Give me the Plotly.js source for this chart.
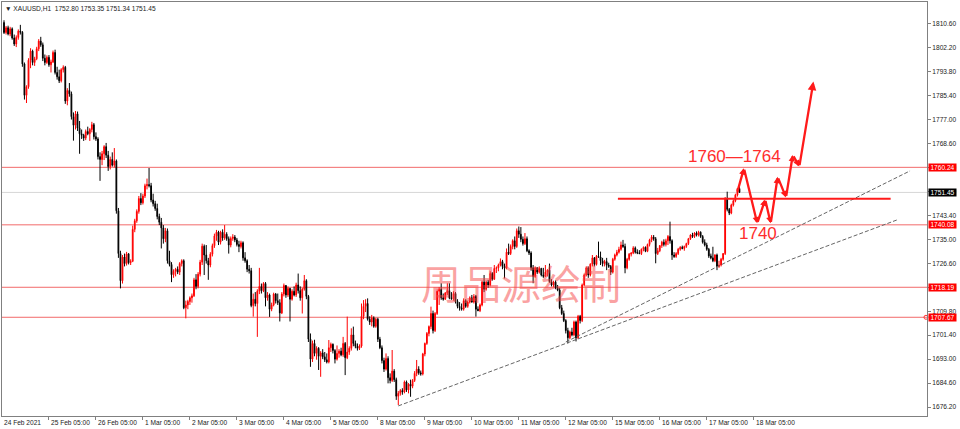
<!DOCTYPE html>
<html><head><meta charset="utf-8">
<script src="https://cdn.plot.ly/plotly-3.0.1.min.js"></script>
<style>html,body{margin:0;padding:0;background:#fff;}#chart{width:960px;height:429px;}</style>
</head><body><div id="chart"></div>
<script>
const open = [
1811.0,1807.5,1809.2,1807.0,1808.8,1805.6,1803.5,1805.8,1808.0,1807.6,
1796.5,1785.5,1788.5,1797.8,1801.0,1797.0,1798.3,1801.8,1804.5,1803.2,
1798.5,1797.0,1798.8,1796.2,1797.2,1800.5,1793.5,1792.0,1790.6,1794.5,
1795.3,1783.5,1787.2,1786.0,1778.0,1775.0,1779.0,1774.0,1772.0,1771.5,
1770.5,1772.8,1772.0,1773.5,1775.2,1771.0,1770.2,1764.0,1763.0,1765.0,
1767.5,1764.5,1760.5,1763.0,1761.0,1762.5,1745.0,1730.0,1720.5,1728.8,
1726.5,1729.9,1726.8,1727.3,1738.5,1741.5,1744.8,1749.3,1747.8,1750.2,
1753.8,1754.2,1753.8,1748.8,1747.5,1745.8,1743.0,1741.0,1739.0,1735.2,
1738.0,1727.5,1726.2,1722.6,1723.8,1724.5,1723.5,1726.5,1727.5,1711.0,
1712.0,1713.2,1714.5,1715.2,1720.8,1718.5,1722.8,1727.0,1732.6,1729.5,
1727.5,1726.0,1729.8,1732.8,1736.2,1737.5,1734.0,1737.5,1735.5,1736.8,
1735.2,1733.0,1735.3,1735.8,1734.8,1733.2,1732.5,1733.8,1728.5,1727.5,
1724.5,1724.0,1711.8,1714.0,1712.5,1716.8,1718.5,1717.0,1719.5,1714.5,
1715.5,1710.5,1712.0,1715.8,1713.5,1712.8,1709.2,1715.8,1718.8,1715.5,
1717.8,1714.0,1716.8,1715.5,1719.0,1717.0,1714.5,1717.5,1720.5,1715.0,
1700.0,1693.0,1698.5,1695.0,1696.8,1694.0,1695.2,1693.8,1692.8,1692.0,
1697.0,1698.2,1696.0,1693.0,1695.0,1695.8,1694.5,1698.5,1693.5,1695.5,
1696.8,1701.5,1698.5,1697.5,1696.8,1697.6,1708.0,1711.5,1712.5,1707.0,
1706.0,1707.5,1704.5,1707.0,1700.0,1697.0,1692.5,1689.5,1693.2,1686.5,
1685.5,1688.8,1685.8,1680.0,1681.0,1682.0,1681.5,1685.0,1682.2,1684.2,
1683.5,1685.5,1688.0,1689.5,1688.2,1687.8,1694.8,1698.5,1702.0,1704.4,
1709.0,1703.0,1709.0,1716.8,1717.5,1714.5,1714.0,1716.2,1717.0,1714.5,
1714.2,1716.0,1713.2,1711.5,1711.0,1710.5,1713.5,1711.5,1713.0,1714.5,
1713.0,1715.0,1710.5,1710.0,1712.0,1720.0,1717.5,1720.0,1719.0,1723.0,
1721.0,1724.8,1725.0,1726.0,1727.2,1725.5,1725.0,1730.5,1730.0,1732.5,
1734.5,1732.5,1738.0,1736.8,1735.0,1733.5,1735.2,1731.0,1730.2,1725.0,
1722.0,1725.0,1723.5,1724.8,1722.5,1722.0,1723.5,1724.2,1720.2,1719.0,
1720.0,1718.0,1717.2,1711.0,1709.0,1706.5,1703.0,1700.5,1702.5,1701.5,
1706.0,1700.5,1708.0,1706.5,1719.0,1722.5,1725.0,1722.5,1726.3,1728.5,
1726.2,1729.0,1728.8,1727.5,1726.5,1727.2,1726.0,1725.5,1723.5,1728.0,
1729.5,1730.5,1731.5,1733.0,1732.5,1725.0,1728.0,1729.8,1730.2,1732.0,
1730.5,1730.2,1730.0,1731.5,1732.2,1730.8,1733.2,1734.8,1735.8,1735.2,
1730.0,1731.0,1732.8,1734.0,1733.2,1734.5,1736.0,1734.5,1729.5,1729.0,
1730.0,1731.5,1732.2,1731.8,1732.5,1733.5,1735.2,1736.5,1736.0,1737.2,
1736.5,1737.5,1736.0,1734.0,1733.0,1731.5,1729.2,1728.5,1727.5,1729.5,
1725.5,1726.0,1728.0,1730.0,1749.4,1745.5,1744.2,1747.0,1748.5,1750.5,1752.80];
const high = [
1811.8,1809.8,1809.9,1809.5,1809.3,1806.8,1806.5,1808.6,1810.2,1808.0,
1797.0,1789.0,1798.5,1802.0,1801.5,1799.0,1802.5,1805.2,1806.0,1804.0,
1799.8,1799.5,1799.6,1798.0,1801.2,1801.5,1795.5,1794.5,1795.0,1796.0,
1795.8,1788.0,1789.8,1786.8,1779.5,1780.0,1779.8,1776.5,1773.5,1772.0,
1773.5,1774.5,1774.0,1776.2,1775.8,1772.5,1770.8,1765.5,1766.0,1768.0,
1768.8,1766.0,1764.0,1765.5,1767.0,1763.0,1746.0,1731.0,1729.5,1730.0,
1730.6,1730.2,1728.0,1739.8,1742.2,1745.5,1750.2,1751.2,1751.0,1754.5,
1756.3,1760.0,1754.8,1751.0,1748.5,1747.5,1744.0,1742.5,1740.0,1739.0,
1738.8,1731.0,1727.0,1724.5,1725.0,1725.5,1727.0,1728.0,1728.0,1713.5,
1713.8,1715.0,1716.0,1721.5,1722.8,1723.5,1727.8,1733.5,1733.2,1733.0,
1728.5,1730.5,1733.5,1737.0,1738.3,1738.0,1738.0,1738.5,1740.0,1737.5,
1736.0,1736.0,1736.8,1736.5,1735.5,1734.5,1734.5,1734.3,1730.5,1728.0,
1726.0,1725.0,1716.0,1716.5,1717.5,1725.0,1719.5,1720.0,1720.0,1716.5,
1716.0,1712.8,1716.3,1716.2,1716.0,1714.0,1716.5,1719.5,1719.0,1718.5,
1718.0,1717.5,1718.5,1719.8,1723.0,1718.5,1718.0,1722.5,1721.0,1715.5,
1702.0,1699.5,1699.8,1697.5,1697.2,1695.8,1696.5,1695.5,1695.0,1699.7,
1698.8,1698.5,1696.5,1697.8,1696.5,1697.0,1700.8,1699.0,1707.9,1697.5,
1703.8,1704.4,1699.5,1698.5,1698.2,1712.5,1713.7,1714.0,1714.3,1708.0,
1708.5,1708.0,1707.5,1707.5,1700.8,1697.8,1693.5,1695.0,1694.0,1688.0,
1696.2,1689.5,1686.5,1681.8,1682.5,1682.8,1685.5,1685.5,1684.6,1685.8,
1686.0,1688.8,1692.7,1690.5,1689.0,1695.2,1698.8,1702.5,1704.8,1711.4,
1710.0,1709.5,1717.5,1718.3,1719.6,1716.0,1716.5,1719.6,1719.6,1716.5,
1716.8,1716.5,1714.0,1713.0,1712.5,1714.3,1714.0,1713.5,1715.0,1715.5,
1715.8,1715.5,1711.5,1712.5,1720.5,1722.5,1720.5,1720.8,1723.8,1723.5,
1726.0,1725.5,1726.5,1728.3,1727.8,1726.5,1731.8,1733.5,1733.2,1735.0,
1736.0,1738.8,1739.5,1739.3,1736.0,1737.2,1736.0,1731.5,1730.8,1726.0,
1725.5,1725.3,1725.5,1725.0,1725.0,1726.0,1724.5,1726.5,1721.0,1720.5,
1720.6,1719.0,1718.0,1712.0,1710.0,1707.0,1704.0,1703.0,1704.0,1706.5,
1706.5,1708.5,1708.5,1719.5,1723.0,1725.5,1725.5,1726.6,1729.5,1728.8,
1729.5,1734.2,1730.7,1728.5,1727.8,1728.5,1726.8,1726.0,1728.5,1730.0,
1731.3,1732.4,1734.2,1734.8,1733.5,1728.5,1730.2,1730.5,1732.6,1732.5,
1731.5,1731.2,1731.8,1732.5,1732.5,1733.5,1735.2,1736.5,1736.5,1735.8,
1732.0,1733.0,1734.5,1735.0,1735.2,1736.5,1741.2,1735.0,1730.5,1730.5,
1732.0,1732.6,1732.8,1732.8,1733.8,1735.5,1736.8,1737.3,1737.5,1737.8,
1738.0,1737.8,1736.5,1735.0,1733.8,1732.0,1730.0,1732.4,1729.8,1730.0,
1727.5,1728.5,1730.2,1749.8,1751.7,1746.0,1747.5,1749.0,1751.0,1753.0,1753.35];
const low = [
1807.0,1806.8,1806.5,1806.2,1805.0,1802.8,1802.4,1805.0,1806.8,1795.5,
1784.0,1782.8,1787.8,1795.0,1796.0,1795.8,1797.8,1801.0,1802.5,1797.5,
1796.0,1796.5,1795.5,1793.5,1796.8,1792.8,1791.0,1789.8,1790.0,1793.5,
1782.5,1782.0,1785.0,1777.0,1769.6,1773.5,1773.0,1765.0,1770.2,1769.5,
1769.8,1771.5,1769.5,1772.5,1770.0,1769.5,1763.0,1755.5,1761.0,1762.8,
1763.5,1759.0,1759.5,1760.5,1760.2,1744.0,1728.5,1717.8,1719.5,1725.5,
1725.8,1726.2,1726.0,1727.0,1737.5,1740.8,1744.0,1747.0,1747.2,1749.5,
1752.5,1753.2,1748.0,1746.5,1745.0,1742.0,1740.0,1731.8,1733.5,1734.0,
1726.5,1725.5,1720.0,1721.5,1722.0,1722.8,1722.5,1725.5,1710.5,1707.3,
1710.5,1712.0,1712.8,1714.8,1717.5,1717.8,1722.0,1726.0,1722.5,1726.5,
1720.8,1725.2,1729.0,1732.0,1734.5,1733.0,1733.2,1734.5,1734.8,1734.5,
1730.0,1732.2,1734.5,1734.0,1732.5,1730.5,1731.8,1727.5,1726.8,1723.5,
1723.0,1711.2,1707.9,1711.5,1700.8,1715.8,1716.0,1716.5,1711.5,1713.5,
1707.8,1709.8,1711.5,1712.5,1712.0,1706.2,1708.8,1715.0,1714.5,1714.8,
1706.2,1713.5,1715.0,1714.8,1716.0,1713.5,1709.0,1717.0,1714.0,1699.0,
1690.3,1692.0,1694.0,1692.8,1689.2,1686.8,1693.0,1692.0,1691.5,1691.5,
1695.5,1695.0,1691.5,1692.5,1693.5,1694.0,1693.8,1687.4,1693.0,1694.5,
1696.0,1697.5,1696.8,1696.0,1696.2,1697.0,1707.0,1709.5,1706.5,1705.0,
1704.5,1704.0,1704.0,1699.0,1696.5,1691.5,1688.5,1689.0,1684.5,1684.5,
1685.0,1685.0,1678.7,1676.9,1680.2,1680.5,1681.0,1681.5,1681.0,1679.8,
1682.8,1685.0,1687.0,1687.5,1687.2,1687.3,1694.0,1698.0,1701.0,1703.5,
1702.0,1702.5,1708.5,1712.0,1713.8,1713.5,1713.8,1715.5,1714.0,1713.8,
1713.5,1712.5,1710.8,1710.0,1710.0,1710.0,1711.0,1711.0,1712.5,1712.8,
1712.5,1707.9,1709.8,1709.5,1711.5,1716.5,1717.0,1718.0,1718.5,1720.5,
1720.8,1723.2,1723.8,1725.5,1724.5,1721.3,1724.5,1729.5,1729.5,1731.5,
1731.5,1732.0,1735.5,1734.0,1732.8,1733.0,1730.5,1729.5,1724.0,1719.6,
1721.5,1722.8,1723.0,1722.0,1721.5,1721.8,1722.0,1719.8,1718.5,1718.2,
1717.5,1716.8,1710.5,1708.5,1706.0,1702.0,1698.5,1700.0,1701.0,1701.0,
1699.2,1700.0,1705.5,1706.0,1718.5,1722.0,1721.5,1722.0,1725.5,1725.5,
1725.8,1728.5,1726.0,1725.5,1725.5,1724.2,1725.0,1722.5,1723.0,1727.5,
1729.0,1730.0,1731.0,1732.0,1723.1,1724.5,1727.5,1729.0,1729.8,1730.0,
1729.8,1729.8,1729.5,1730.8,1730.5,1730.5,1732.5,1734.0,1734.5,1726.6,
1729.5,1730.5,1732.0,1732.5,1732.5,1733.0,1733.5,1727.8,1728.5,1728.5,
1729.5,1731.0,1731.5,1731.0,1732.0,1733.0,1734.8,1735.5,1735.5,1736.0,
1736.0,1735.5,1733.5,1732.5,1731.0,1728.5,1728.0,1727.0,1727.0,1724.2,
1725.0,1725.5,1727.5,1729.5,1744.8,1743.5,1743.8,1746.5,1748.0,1750.0,1751.34];
const close = [
1807.5,1809.2,1807.0,1808.8,1805.6,1803.5,1805.8,1808.0,1807.6,1796.5,
1785.5,1788.5,1797.8,1801.0,1797.0,1798.3,1801.8,1804.5,1803.2,1798.5,
1797.0,1798.8,1796.2,1797.2,1800.5,1793.5,1792.0,1790.6,1794.5,1795.3,
1783.5,1787.2,1786.0,1778.0,1775.0,1779.0,1774.0,1772.0,1771.5,1770.5,
1772.8,1772.0,1773.5,1775.2,1771.0,1770.2,1764.0,1763.0,1765.0,1767.5,
1764.5,1760.5,1763.0,1761.0,1762.5,1745.0,1730.0,1720.5,1728.8,1726.5,
1729.9,1726.8,1727.3,1738.5,1741.5,1744.8,1749.3,1747.8,1750.2,1753.8,
1754.2,1753.8,1748.8,1747.5,1745.8,1743.0,1741.0,1739.0,1735.2,1738.0,
1727.5,1726.2,1722.6,1723.8,1724.5,1723.5,1726.5,1727.5,1711.0,1712.0,
1713.2,1714.5,1715.2,1720.8,1718.5,1722.8,1727.0,1732.6,1729.5,1727.5,
1726.0,1729.8,1732.8,1736.2,1737.5,1734.0,1737.5,1735.5,1736.8,1735.2,
1733.0,1735.3,1735.8,1734.8,1733.2,1732.5,1733.8,1728.5,1727.5,1724.5,
1724.0,1711.8,1714.0,1712.5,1716.8,1718.5,1717.0,1719.5,1714.5,1715.5,
1710.5,1712.0,1715.8,1713.5,1712.8,1709.2,1715.8,1718.8,1715.5,1717.8,
1714.0,1716.8,1715.5,1719.0,1717.0,1714.5,1717.5,1720.5,1715.0,1700.0,
1693.0,1698.5,1695.0,1696.8,1694.0,1695.2,1693.8,1692.8,1692.0,1697.0,
1698.2,1696.0,1693.0,1695.0,1695.8,1694.5,1698.5,1693.5,1695.5,1696.8,
1701.5,1698.5,1697.5,1696.8,1697.6,1708.0,1711.5,1712.5,1707.0,1706.0,
1707.5,1704.5,1707.0,1700.0,1697.0,1692.5,1689.5,1693.2,1686.5,1685.5,
1688.8,1685.8,1680.0,1681.0,1682.0,1681.5,1685.0,1682.2,1684.2,1683.5,
1685.5,1688.0,1689.5,1688.2,1687.8,1694.8,1698.5,1702.0,1704.4,1709.0,
1703.0,1709.0,1716.8,1717.5,1714.5,1714.0,1716.2,1717.0,1714.5,1714.2,
1716.0,1713.2,1711.5,1711.0,1710.5,1713.5,1711.5,1713.0,1714.5,1713.0,
1715.0,1710.5,1710.0,1712.0,1720.0,1717.5,1720.0,1719.0,1723.0,1721.0,
1724.8,1725.0,1726.0,1727.2,1725.5,1725.0,1730.5,1730.0,1732.5,1734.5,
1732.5,1738.0,1736.8,1735.0,1733.5,1735.2,1731.0,1730.2,1725.0,1722.0,
1725.0,1723.5,1724.8,1722.5,1722.0,1723.5,1724.2,1720.2,1719.0,1720.0,
1718.0,1717.2,1711.0,1709.0,1706.5,1703.0,1700.5,1702.5,1701.5,1706.0,
1700.5,1708.0,1706.5,1719.0,1722.5,1725.0,1722.5,1726.3,1728.5,1726.2,
1729.0,1728.8,1727.5,1726.5,1727.2,1726.0,1725.5,1723.5,1728.0,1729.5,
1730.5,1731.5,1733.0,1732.5,1725.0,1728.0,1729.8,1730.2,1732.0,1730.5,
1730.2,1730.0,1731.5,1732.2,1730.8,1733.2,1734.8,1735.8,1735.2,1730.0,
1731.0,1732.8,1734.0,1733.2,1734.5,1736.0,1734.5,1729.5,1729.0,1730.0,
1731.5,1732.2,1731.8,1732.5,1733.5,1735.2,1736.5,1736.0,1737.2,1736.5,
1737.5,1736.0,1734.0,1733.0,1731.5,1729.2,1728.5,1727.5,1729.5,1725.5,
1726.0,1728.0,1730.0,1749.4,1745.5,1744.2,1747.0,1748.5,1750.5,1752.8,1751.45];

const xTickVals = [22,45,68,91,114,137,160,183,206,229,252,275,298,321,344,367];
const xTickText = ["25 Feb 05:00","26 Feb 05:00","1 Mar 05:00","2 Mar 05:00","3 Mar 05:00","4 Mar 05:00","5 Mar 05:00","8 Mar 05:00","9 Mar 05:00","10 Mar 05:00","11 Mar 05:00","12 Mar 05:00","15 Mar 05:00","16 Mar 05:00","17 Mar 05:00","18 Mar 05:00"];
const firstDateLabel = "24 Feb 2021";
const yTickVals = [1676.2,1684.6,1693.0,1701.4,1709.8,1718.2,1726.6,1735.0,1743.4,1751.8,1760.2,1768.6,1777.0,1785.4,1793.8,1802.2,1810.6];
const levelPrices = [1760.24,1740.08,1718.19,1707.67];
const lastPrice = 1751.45;
const titleText = "▼ XAUUSD,H1  1752.80 1753.35 1751.34 1751.45";
const keyLevelX = [300.5,434];
const keyLevelY = [1749.2,1749.2];
const trendAX = [193,437.1], trendAY = [1676.6,1741.8];
const trendBX = [275,443.5], trendBY = [1699.0,1759.0];
const pathX = [358.8,362.2,368.7,372.6,375.3,378.7,382.8,386.1,389.3,396.2];
const pathY = [1751.2,1759.9,1740.6,1749.0,1740.6,1756.9,1749.7,1764.6,1760.5,1790.3];
const noteTexts = ["1760—1764","1740"];
const noteX = [357.8,369.2];
const noteY = [1764.0,1737.0];
const watermark = "周品源绘制";

const FONT = "Liberation Sans, Arial, sans-serif";
const SMALL = 6.6;
const xIdx = open.map((_, i) => i);

const traces = [
  {type:'candlestick', x:xIdx, open:open, high:high, low:low, close:close,
   increasing:{line:{color:'#ff0000', width:1}, fillcolor:'#ff0000'},
   decreasing:{line:{color:'#000000', width:1}, fillcolor:'#000000'},
   whiskerwidth:0, hoverinfo:'skip'},
  {type:'scatter', mode:'lines', x:trendAX, y:trendAY, line:{color:'#666', width:1, dash:'4px,2px'}, hoverinfo:'skip'},
  {type:'scatter', mode:'lines', x:trendBX, y:trendBY, line:{color:'#666', width:1, dash:'4px,2px'}, hoverinfo:'skip'},
  {type:'scatter', mode:'lines', x:keyLevelX, y:keyLevelY, line:{color:'#ff1a1a', width:2}, hoverinfo:'skip'},
  {type:'scatter', mode:'markers', x:[451.3], y:[levelPrices[3]], marker:{symbol:'circle-open', size:4, color:'#ff3030', line:{width:1}}, cliponaxis:false, hoverinfo:'skip'}
];

const shapes = levelPrices.map(p => ({type:'line', xref:'paper', x0:0, x1:1, yref:'y', y0:p, y1:p, line:{color:'#f26a6a', width:1}, layer:'below'}));
shapes.push({type:'line', xref:'paper', x0:0, x1:1, yref:'y', y0:lastPrice, y1:lastPrice, line:{color:'#d6d6d6', width:1}, layer:'below'});

const annotations = [];
annotations.push({xref:'paper', x:0, xanchor:'left', xshift:0, yref:'paper', y:0, yanchor:'top', yshift:-1,
  text:firstDateLabel, showarrow:false, font:{family:FONT, size:SMALL, color:'#222'}});
xTickVals.forEach((v, k) => annotations.push({xref:'x', x:v, xanchor:'left', xshift:0, yref:'paper', y:0, yanchor:'top', yshift:-1,
  text:xTickText[k], showarrow:false, font:{family:FONT, size:SMALL, color:'#222'}}));
annotations.push({xref:'paper', x:0, xanchor:'left', xshift:1, yref:'paper', y:1, yanchor:'top', yshift:-1,
  text:titleText, showarrow:false, font:{family:FONT, size:SMALL, color:'#222'}});
levelPrices.forEach(p => annotations.push({xref:'paper', x:1, xanchor:'left', xshift:1, yref:'y', y:p, yanchor:'middle',
  text:p.toFixed(2), showarrow:false, bgcolor:'#ff0000', borderpad:0.5, width:26, height:6,
  font:{family:FONT, size:SMALL, color:'#ffffff'}}));
annotations.push({xref:'paper', x:1, xanchor:'left', xshift:1, yref:'y', y:lastPrice, yanchor:'middle',
  text:lastPrice.toFixed(2), showarrow:false, bgcolor:'#000000', borderpad:0.5, width:26, height:6,
  font:{family:FONT, size:SMALL, color:'#ffffff'}});
for (let k = 1; k < pathX.length; k++) {
  annotations.push({xref:'x', yref:'y', x:pathX[k], y:pathY[k], axref:'x', ayref:'y', ax:pathX[k-1], ay:pathY[k-1],
    text:'', showarrow:true, arrowhead:2, arrowsize:(k === pathX.length - 1 ? 0.75 : 0.55), arrowwidth:2.3, arrowcolor:'#ff1a1a', standoff:0, startstandoff:0});
}
noteTexts.forEach((t, k) => annotations.push({xref:'x', yref:'y', x:noteX[k], y:noteY[k], xanchor:'center', yanchor:'middle',
  text:t, showarrow:false, font:{family:FONT, size:17, color:'#ff2d2d'}}));
annotations.push({xref:'paper', yref:'paper', x:0.5611, y:0.3237, xanchor:'center', yanchor:'middle',
  text:watermark, showarrow:false, font:{family:'Noto Sans CJK SC, sans-serif', size:40, color:'rgba(245,70,70,0.5)'}});

const layout = {
  width:960, height:429,
  margin:{l:2, r:33, t:2, b:13, pad:0},
  paper_bgcolor:'#ffffff', plot_bgcolor:'#ffffff',
  showlegend:false, hovermode:false, dragmode:false,
  boxgap:0.45,
  xaxis:{type:'linear', range:[-0.98, 451.8], showgrid:false, zeroline:false,
    showline:true, mirror:true, linecolor:'#808080', linewidth:1,
    ticks:'outside', ticklen:3, tickcolor:'#808080', tickvals:xTickVals, showticklabels:false,
    rangeslider:{visible:false}, fixedrange:true},
  yaxis:{side:'right', range:[1673.06, 1818.21], showgrid:false, zeroline:false,
    showline:true, mirror:true, linecolor:'#808080', linewidth:1,
    ticks:'outside', ticklen:3, tickcolor:'#808080',
    tickvals:yTickVals, ticktext:yTickVals.map(v => v.toFixed(2)),
    tickfont:{family:FONT, size:SMALL, color:'#222'}, fixedrange:true},
  shapes:shapes, annotations:annotations
};

Plotly.newPlot('chart', traces, layout, {staticPlot:true, displayModeBar:false});
</script></body></html>
